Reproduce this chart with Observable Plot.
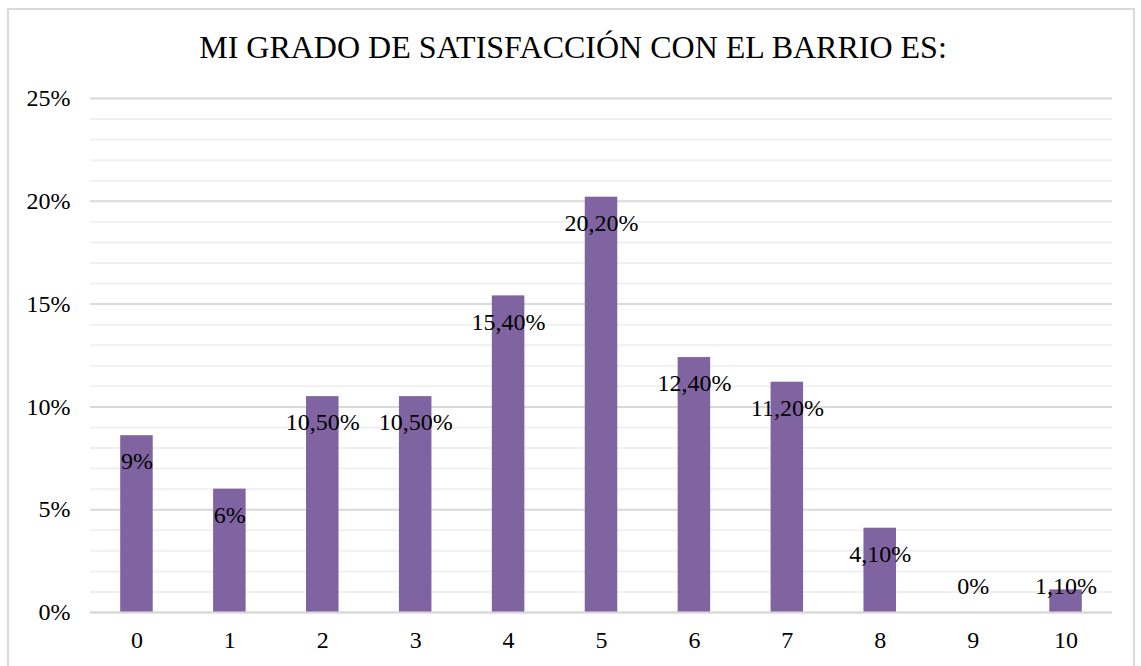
<!DOCTYPE html>
<html>
<head>
<meta charset="utf-8">
<script src="https://cdn.jsdelivr.net/npm/d3@7"></script>
<script src="https://cdn.jsdelivr.net/npm/@observablehq/plot@0.6"></script>
<style>
  html, body { margin: 0; padding: 0; background: #fff; width: 1141px; height: 666px; overflow: hidden; }
  #frame { position: absolute; left: 7px; top: 8px; width: 1128px; height: 700px; border: 2px solid #d9d9d9; box-sizing: border-box; }
  #title { position: absolute; left: 0; top: 26px; width: 1146px; text-align: center; font-family: "Liberation Serif", "Times New Roman", serif; font-size: 32px; line-height: 42px; color: #000; }
  #chart { position: absolute; left: 0; top: 0; }
</style>
</head>
<body>
<div id="frame"></div>
<div id="title">MI GRADO DE SATISFACCIÓN CON EL BARRIO ES:</div>
<div id="chart"></div>
<script>
const categories = ["0", "1", "2", "3", "4", "5", "6", "7", "8", "9", "10"];
const values = [8.6, 6.0, 10.5, 10.5, 15.4, 20.2, 12.4, 11.2, 4.1, 0, 1.1];
const labels = ["9%", "6%", "10,50%", "10,50%", "15,40%", "20,20%", "12,40%", "11,20%", "4,10%", "0%", "1,10%"];
const majorTicks = [0, 5, 10, 15, 20, 25];
const minorTicks = d3.range(0, 26).filter(v => v % 5 !== 0);

const data = categories.map((c, i) => ({cat: c, value: values[i], label: labels[i]}));

const chart = Plot.plot({
  width: 1141,
  height: 666,
  marginTop: 98,
  marginBottom: 54,
  marginLeft: 90,
  marginRight: 29,
  style: {fontFamily: "'Liberation Serif', 'Times New Roman', serif", fontSize: "24px", color: "#000", background: "transparent"},
  x: {domain: categories, paddingInner: 0.65, paddingOuter: 0.325, round: false, label: null, tickSize: 0, tickPadding: 18},
  y: {domain: [0, 25], label: null, ticks: majorTicks, tickFormat: d => d + "%", tickSize: 0, tickPadding: 20},
  marks: [
    Plot.ruleY(minorTicks, {stroke: "#f0f0f0", strokeWidth: 2}),
    Plot.ruleY(majorTicks, {stroke: "#d9d9d9", strokeWidth: 2}),
    Plot.barY(data, {x: "cat", y: "value", fill: "#8064A2"}),
    Plot.ruleY([0], {stroke: "#d9d9d9", strokeWidth: 2}),
    Plot.text(data, {x: "cat", y: d => Math.max(d.value - 1.27, 1.27), text: "label", fill: "#000", fontSize: 24})
  ]
});
document.getElementById("chart").appendChild(chart);
</script>
</body>
</html>
